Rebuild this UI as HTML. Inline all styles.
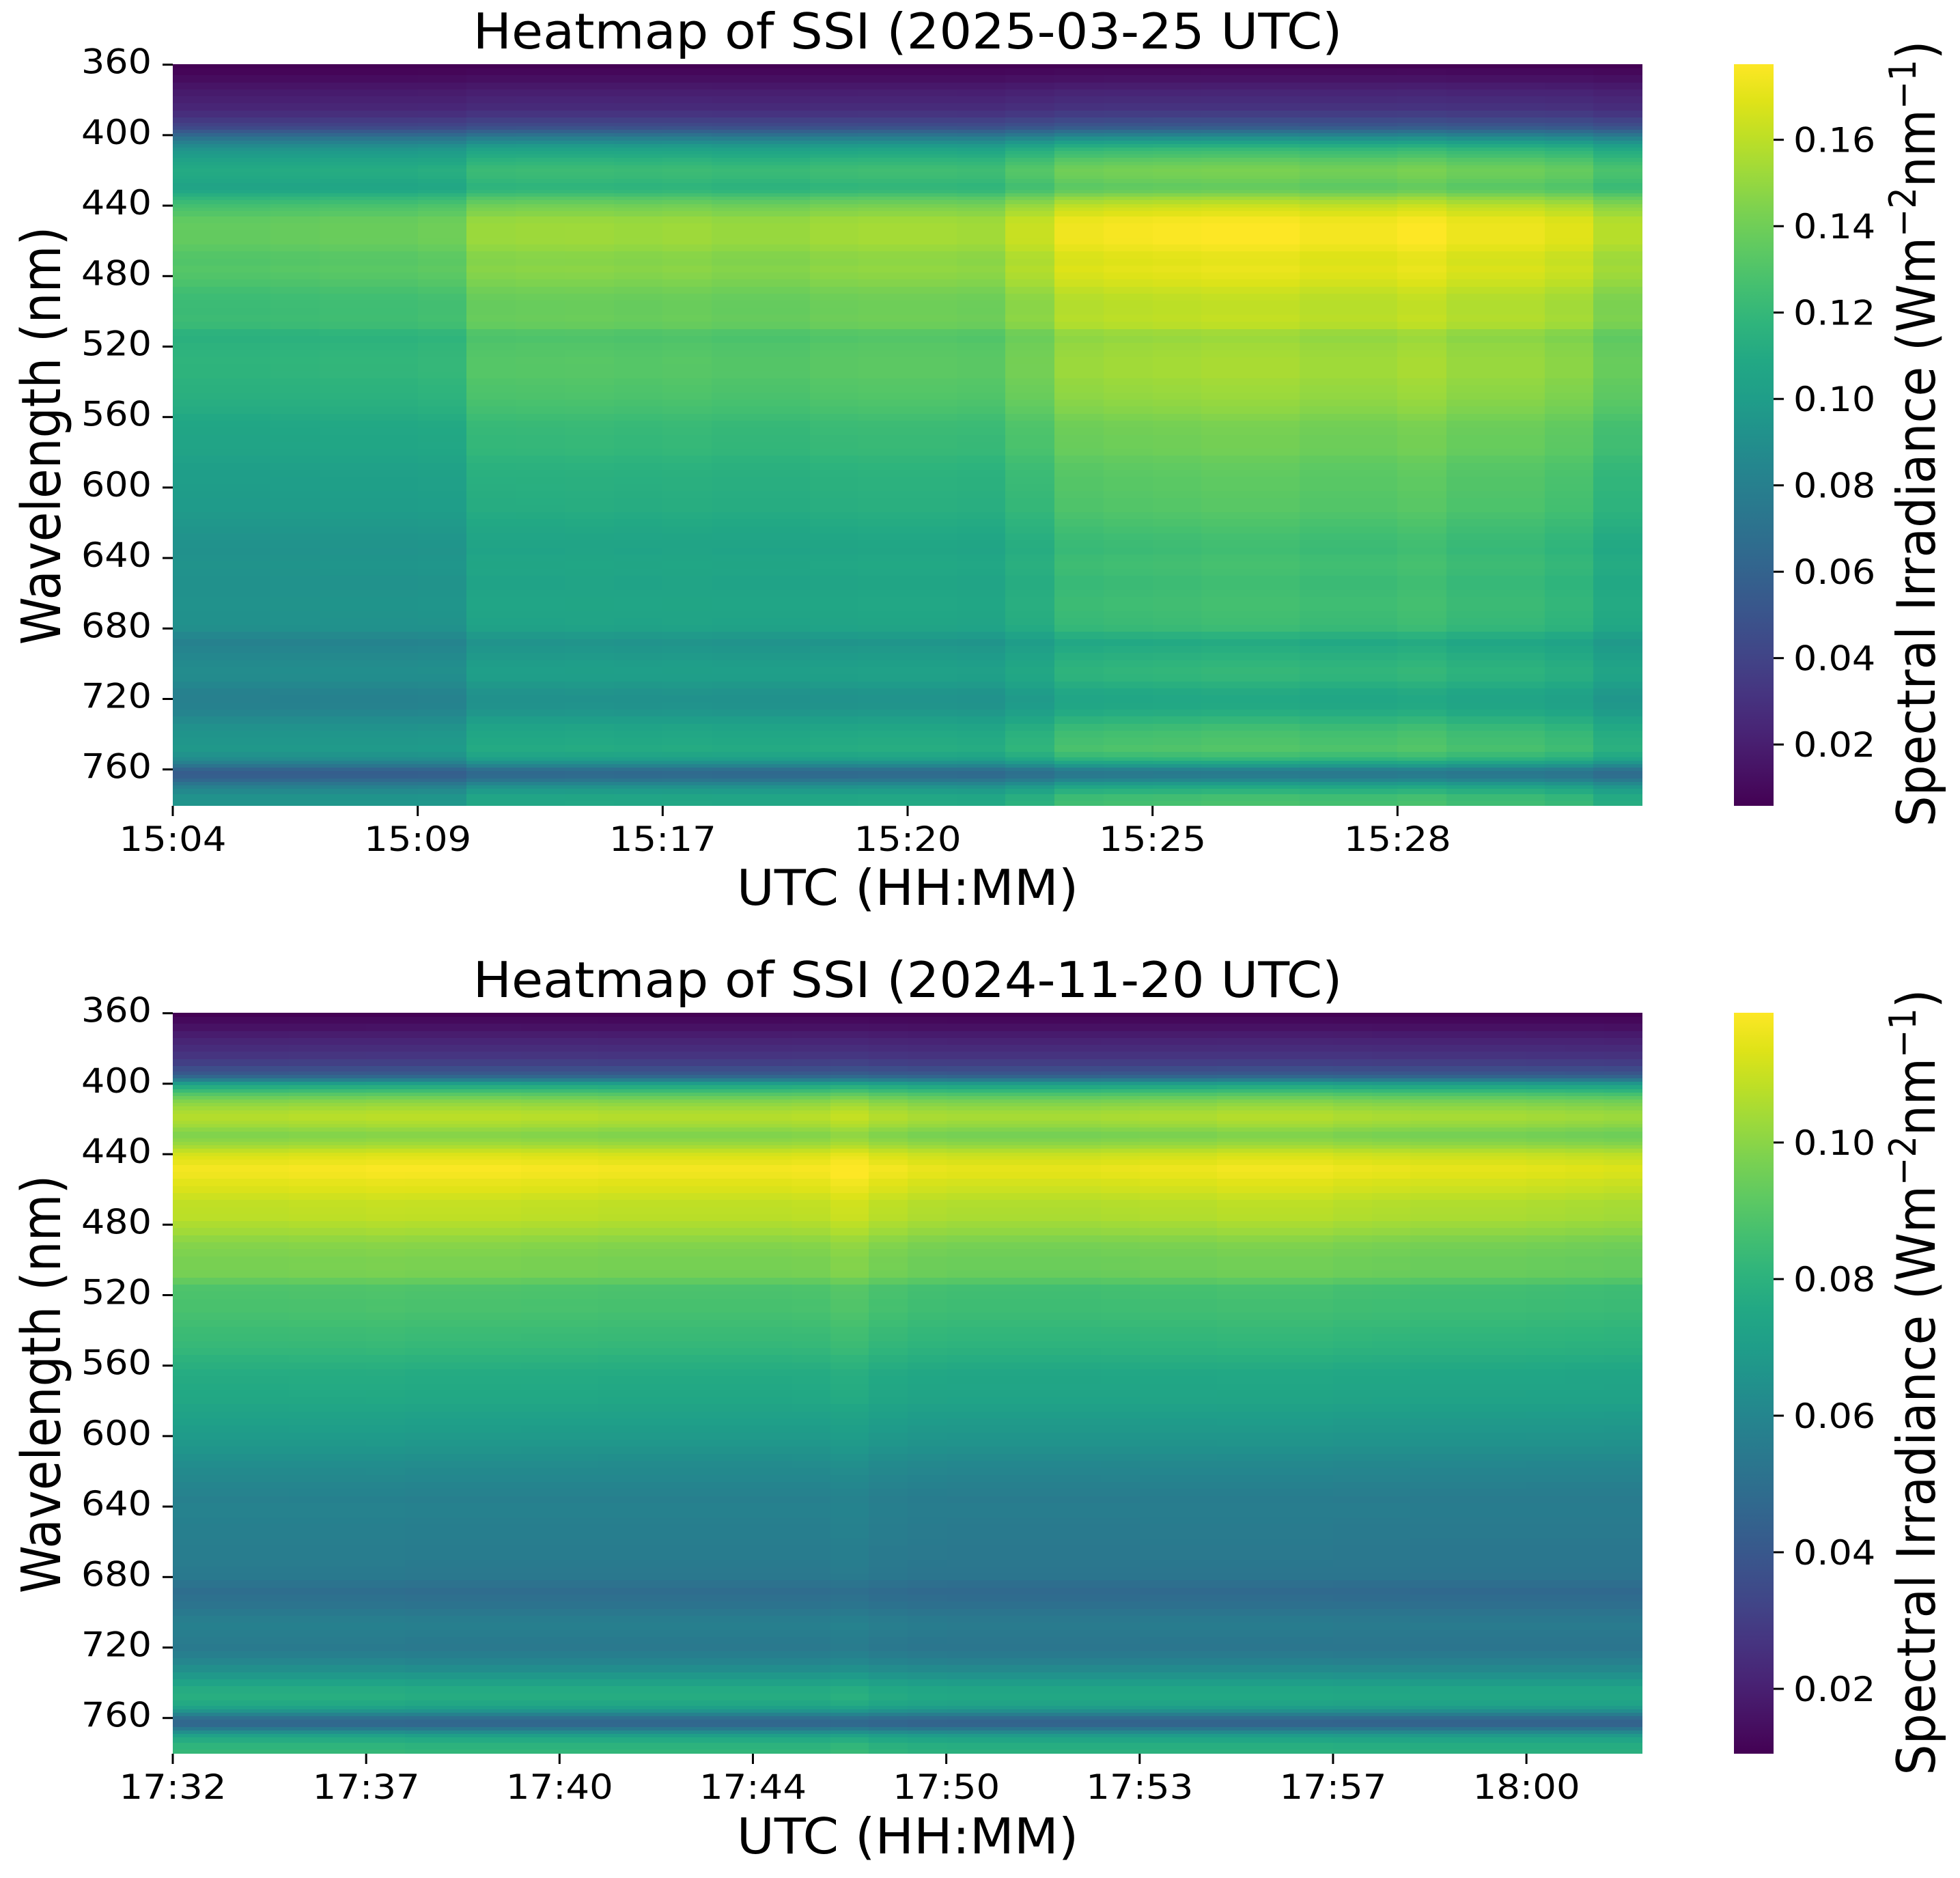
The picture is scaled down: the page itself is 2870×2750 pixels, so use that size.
<!DOCTYPE html>
<html lang="en">
<head>
<meta charset="utf-8">
<title>Heatmaps of SSI</title>
<style>
html,body{margin:0;padding:0;background:#fff;width:2870px;height:2750px;overflow:hidden}
svg{display:block}
text{font-family:"DejaVu Sans","Liberation Sans",sans-serif;fill:#000}
.tick{font-size:50px}
.label{font-size:72px}
.title{font-size:72px}
</style>
</head>
<body>
<svg id="figure" xmlns="http://www.w3.org/2000/svg" width="2870" height="2750" viewBox="0 0 2870 2750">
  <defs>
    <linearGradient id="viridis-gradient" x1="0" y1="1" x2="0" y2="0"></linearGradient>
  </defs>
  <rect x="0" y="0" width="2870" height="2750" fill="#fff"/>

  <g id="panel-top">
    <text class="title" transform="translate(1329 71) scale(1.042 1)" text-anchor="middle">Heatmap of SSI (2025-03-25 UTC)</text>
    <g id="cells-top"></g>
    <g id="axes-top"></g>
    <text class="label" transform="translate(1329 1325) scale(1.046 1)" text-anchor="middle">UTC (HH:MM)</text>
    <text class="label" transform="translate(88 638) rotate(-90) scale(.985 1.1)" text-anchor="middle">Wavelength (nm)</text>
    <rect x="2539" y="94" width="58" height="1086" fill="url(#viridis-gradient)"/>
    <text class="label" transform="translate(2833 635) rotate(-90) scale(.987 1.08)" text-anchor="middle">Spectral Irradiance (Wm<tspan font-size="50" dy="-26">−2</tspan><tspan dy="26">nm</tspan><tspan font-size="50" dy="-26">−1</tspan><tspan dy="26">)</tspan></text>
  </g>

  <g id="panel-bottom">
    <text class="title" transform="translate(1329 1460) scale(1.042 1)" text-anchor="middle">Heatmap of SSI (2024-11-20 UTC)</text>
    <g id="cells-bottom"></g>
    <g id="axes-bottom"></g>
    <text class="label" transform="translate(1329 2714) scale(1.046 1)" text-anchor="middle">UTC (HH:MM)</text>
    <text class="label" transform="translate(88 2027) rotate(-90) scale(.985 1.1)" text-anchor="middle">Wavelength (nm)</text>
    <rect x="2539" y="1483" width="58" height="1085" fill="url(#viridis-gradient)"/>
    <text class="label" transform="translate(2833 2024) rotate(-90) scale(.987 1.08)" text-anchor="middle">Spectral Irradiance (Wm<tspan font-size="50" dy="-26">−2</tspan><tspan dy="26">nm</tspan><tspan font-size="50" dy="-26">−1</tspan><tspan dy="26">)</tspan></text>
  </g>
</svg>

<script>
// Shared row categories (nm); denser where the spectrum changes quickly.
const wavelengths = [
  360,364,368,372,376,380,384,388,
  392,394,396,398,400,402,404,406,408,410,412,414,416,418,420,422,424,426,428,430,432,434,436,438,440,442,444,
  448,452,456,460,464,468,472,476,
  480,484,488,492,496,500,504,508,512,516,
  520,524,528,532,536,540,544,548,552,556,
  560,564,568,572,576,580,584,588,592,596,
  600,604,608,612,616,620,624,628,632,636,
  640,644,648,652,656,660,664,668,672,676,
  680,684,688,692,696,700,704,708,712,716,
  720,724,728,732,736,740,744,748,
  752,754,756,758,760,762,764,766,768,770,772,
  776,780
];
const wavelengthTicks = [360,400,440,480,520,560,600,640,680,720,760];

// 2025-03-25 panel: irradiance read per wavelength, then each time column's relative
// level near the blue peak and in the long-wave range.
const spectrumTop = [
  .0058,.0101,.0144,.0195,.0238,.0273,.0307,.0367,
  .0444,.0504,.0573,.0693,.0813,.0934,.1037,.1131,.1208,.1260,.1294,.1346,.1380,.1414,.1432,.1423,.1414,.1389,.1363,.1371,.1397,.1466,.1535,.1586,.1638,.1672,.1706,
  .1758,.1775,.1775,.1775,.1749,.1715,.1706,.1723,
  .1706,.1681,.1646,.1620,.1612,.1612,.1620,.1603,.1535,.1517,
  .1535,.1543,.1552,.1552,.1552,.1535,.1526,.1517,.1500,.1483,
  .1457,.1432,.1423,.1414,.1414,.1406,.1380,.1363,.1354,.1346,
  .1346,.1337,.1329,.1329,.1311,.1294,.1277,.1260,.1251,.1243,
  .1260,.1268,.1260,.1243,.1243,.1251,.1260,.1260,.1251,.1243,
  .1226,.1157,.1105,.1131,.1157,.1183,.1200,.1191,.1148,.1105,
  .1088,.1097,.1131,.1191,.1243,.1277,.1294,.1311,
  .1260,.1191,.1088,.0968,.0831,.0762,.0779,.0865,.0985,.1088,.1174,
  .1260,.1277
];
const blueLevelsTop = [
  .77,.77,.775,.78,.78,.79,.855,.86,.86,.855,
  .86,.85,.85,.865,.87,.87,.865,.92,.98,.99,
  .995,1,1,.985,.985,1,.975,.975,.955,.895
];
const longLevelsTop = [
  .735,.735,.74,.745,.745,.75,.84,.84,.845,.84,
  .845,.84,.84,.85,.855,.855,.85,.90,.975,.985,
  .99,1,1,.985,.985,1,.97,.97,.945,.875
];
const timeLabelsTop = ["15:04","15:09","15:17","15:20","15:25","15:28"];
const colorTicksTop = [.02,.04,.06,.08,.10,.12,.14,.16];
const colorRangeTop = [.0058,.1775];

// 2024-11-20 panel.
const spectrumBottom = [
  .0105,.0132,.0159,.0192,.0219,.0246,.0273,.0311,
  .0365,.0409,.0474,.0582,.0702,.0789,.0854,.0913,.0962,.1000,.1027,.1049,.1071,.1082,.1082,.1065,.1049,.1022,.1000,.1000,.1016,.1038,.1065,.1103,.1136,.1152,.1168,
  .1190,.1179,.1157,.1141,.1119,.1098,.1092,.1087,
  .1065,.1044,.1016,.0995,.0984,.0973,.0973,.0968,.0930,.0886,
  .0881,.0875,.0875,.0865,.0854,.0843,.0837,.0827,.0816,.0799,
  .0783,.0767,.0761,.0756,.0751,.0745,.0729,.0713,.0702,.0691,
  .0680,.0669,.0653,.0637,.0620,.0610,.0599,.0588,.0577,.0566,
  .0572,.0572,.0566,.0561,.0561,.0555,.0550,.0550,.0544,.0539,
  .0534,.0506,.0485,.0496,.0512,.0534,.0555,.0566,.0555,.0544,
  .0539,.0561,.0588,.0626,.0669,.0713,.0756,.0767,
  .0745,.0702,.0648,.0572,.0496,.0458,.0463,.0539,.0626,.0702,.0756,
  .0794,.0810
];
const blueLevelsBottom = [
  .985,.985,.985,.99,.99,.995,.995,.995,.995,.99,
  .99,.985,.985,.985,.985,.985,.99,1.01,.985,.97,
  .965,.965,.965,.965,.97,.975,.975,.985,.985,.985,
  .975,.97,.965,.965,.965,.96,.955,.95
];
const longLevelsBottom = [
  1.02,1.02,1.02,1.02,1.02,1.02,1.01,1.01,1.01,1.01,
  1.01,1.01,1.01,1.01,1.01,1.01,1.01,1.03,1.0,.985,
  .98,.98,.98,.98,.98,.985,.985,.985,.985,.985,
  .98,.98,.975,.975,.975,.975,.975,.975
];
const timeLabelsBottom = ["17:32","17:37","17:40","17:44","17:50","17:53","17:57","18:00"];
const colorTicksBottom = [.02,.04,.06,.08,.10];
const colorRangeBottom = [.0105,.119];

// Viridis colormap stops.
const viridis = ["#440154","#471365","#482475","#463480","#414487","#3b528b","#355f8d","#2f6c8e","#2a788e","#25848e","#21918c","#1f9e89","#22a884","#2fb47c","#44bf70","#5ec962","#7ad151","#9bd93c","#bddf26","#dfe318","#fde725"];

const SVG_NS = "http://www.w3.org/2000/svg";
function hexToRgb(h){return [parseInt(h.slice(1,3),16),parseInt(h.slice(3,5),16),parseInt(h.slice(5,7),16)];}
function colormap(t){
  const c = Math.max(0, Math.min(1, t)) * (viridis.length - 1);
  const i = Math.min(Math.floor(c), viridis.length - 2);
  const f = c - i, a = hexToRgb(viridis[i]), b = hexToRgb(viridis[i + 1]);
  return "rgb(" + a.map((v, k) => Math.round(v + (b[k] - v) * f)).join(",") + ")";
}
function make(tag, props, text){
  const el = document.createElementNS(SVG_NS, tag);
  for (const k in props) el.setAttribute(k, props[k]);
  if (text !== undefined) el.textContent = text;
  return el;
}

const gradient = document.getElementById("viridis-gradient");
viridis.forEach(function(col, i){
  gradient.appendChild(make("stop", {offset: i / (viridis.length - 1), "stop-color": col}));
});

function drawPanel(cfg){
  const plotLeft = 253, plotRight = 2405, cbarRight = 2597;
  const columnWidth = (plotRight - plotLeft) / cfg.blue.length;
  const xScale = function(col){ return plotLeft + col * columnWidth; };
  const yScale = function(nm){ return cfg.top + 0.7 + (nm - 360) * 2.58; };
  const cScale = function(v){ return cfg.bottom - (v - cfg.range[0]) / (cfg.range[1] - cfg.range[0]) * (cfg.bottom - cfg.top); };
  const norm = function(v){ return (v - cfg.range[0]) / (cfg.range[1] - cfg.range[0]); };
  const levelAt = function(c, nm){
    const mix = Math.max(0, Math.min(1, (nm - 440) / 200));
    return cfg.blue[c] + (cfg.long[c] - cfg.blue[c]) * mix;
  };

  // Heatmap cells
  const cellsGroup = document.getElementById(cfg.cellsId);
  cfg.spectrum.forEach(function(value, r){
    const nm = wavelengths[r];
    const lower = r > 0 ? (wavelengths[r - 1] + nm) / 2 : 350;
    const upper = r < wavelengths.length - 1 ? (wavelengths[r + 1] + nm) / 2 : 790;
    const y0 = Math.max(cfg.top, Math.round(yScale(lower)));
    const y1 = Math.min(cfg.bottom, Math.round(yScale(upper)));
    cfg.blue.forEach(function(unused, c){
      const x0 = Math.round(xScale(c)), x1 = Math.round(xScale(c + 1));
      const cell = make("rect", {x: x0, y: y0, width: x1 - x0, height: y1 - y0, fill: colormap(norm(value * levelAt(c, nm))), "shape-rendering": "crispEdges"});
      
      
      cellsGroup.appendChild(cell);
    });
  });

  const axes = document.getElementById(cfg.axesId);

  // Wavelength axis
  wavelengthTicks.forEach(function(nm){
    const y = yScale(nm);
    const mark = make("line", {x1: plotLeft - 15, x2: plotLeft, y1: y, y2: y, stroke: "#000", "stroke-width": 3});
    
    
    axes.appendChild(mark);
    const label = make("text", {transform: "translate(222 " + (y + 13) + ") scale(1.08 1)", "text-anchor": "end", class: "tick"}, String(nm));
    
    
    axes.appendChild(label);
  });

  // Time axis: a label every fifth column
  cfg.timeLabels.forEach(function(name, i){
    const x = xScale(i * 5);
    const mark = make("line", {x1: x, x2: x, y1: cfg.bottom, y2: cfg.bottom + 15, stroke: "#000", "stroke-width": 3});
    
    
    axes.appendChild(mark);
    const label = make("text", {transform: "translate(" + x + " " + (cfg.bottom + 66) + ") scale(1.09 1)", "text-anchor": "middle", class: "tick"}, name);
    
    
    axes.appendChild(label);
  });

  // Colorbar axis
  cfg.colorTicks.forEach(function(v){
    const y = cScale(v);
    const mark = make("line", {x1: cbarRight, x2: cbarRight + 15, y1: y, y2: y, stroke: "#000", "stroke-width": 3});
    
    
    axes.appendChild(mark);
    const label = make("text", {transform: "translate(2626 " + (y + 18) + ") scale(1.08 1)", class: "tick"}, v.toFixed(2));
    
    
    axes.appendChild(label);
  });
}

drawPanel({cellsId: "cells-top", axesId: "axes-top", top: 94, bottom: 1180, spectrum: spectrumTop, blue: blueLevelsTop, long: longLevelsTop, timeLabels: timeLabelsTop, colorTicks: colorTicksTop, range: colorRangeTop});
drawPanel({cellsId: "cells-bottom", axesId: "axes-bottom", top: 1483, bottom: 2568, spectrum: spectrumBottom, blue: blueLevelsBottom, long: longLevelsBottom, timeLabels: timeLabelsBottom, colorTicks: colorTicksBottom, range: colorRangeBottom});
</script>
</body>
</html>
